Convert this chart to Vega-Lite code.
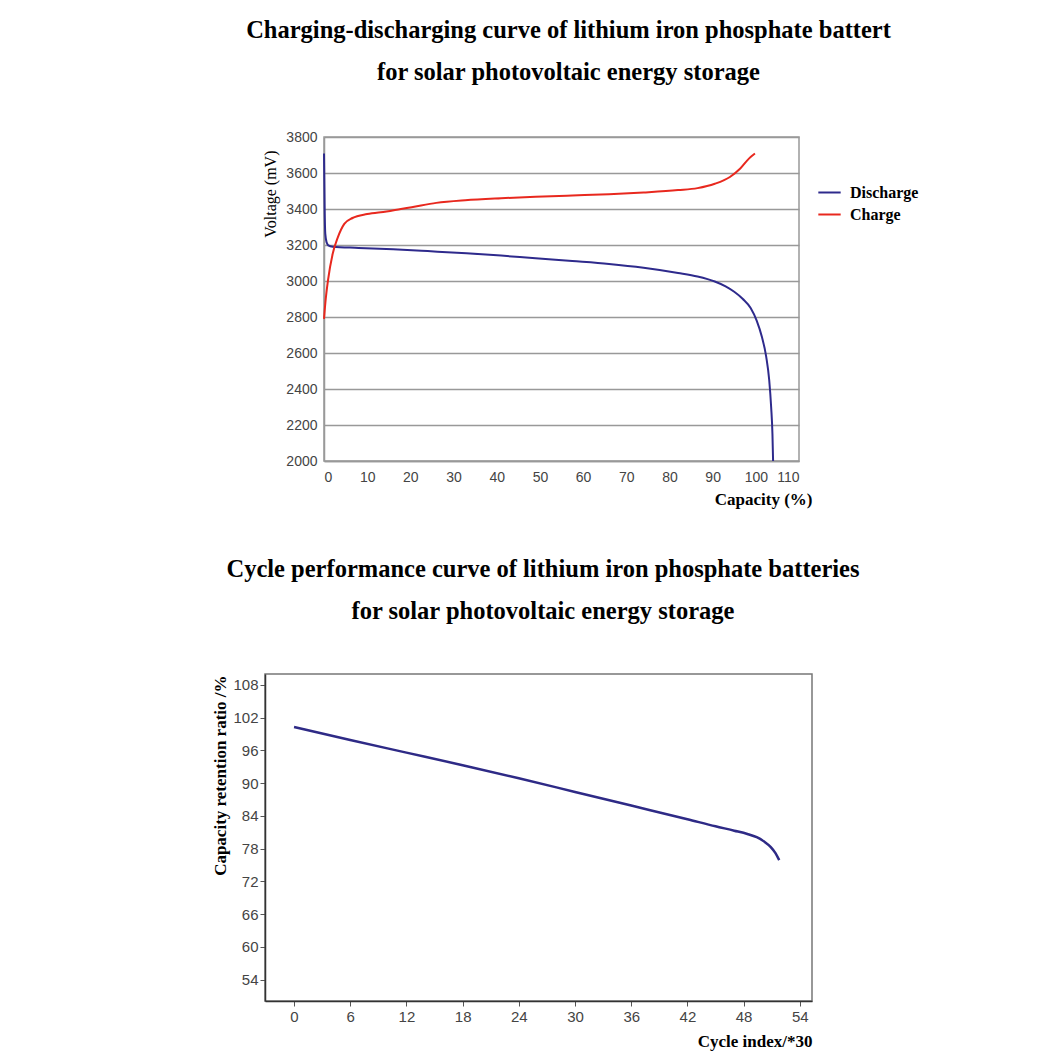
{
  "$schema": "https://vega.github.io/schema/vega-lite/v6.json",
  "padding": {"left": 5, "top": 16, "right": 5, "bottom": 5},
  "autosize": {"type": "pad"},
  "background": "white",
  "spacing": 47,
  "config": {
    "title": {"font": "Liberation Serif", "fontWeight": "bold", "fontSize": 24.5, "color": "#000", "lineHeight": 42},
    "axis": {"labelFont": "Liberation Sans", "labelColor": "#444"}
  },
  "vconcat": [
    {
      "spacing": 0,
      "hconcat": [
        {"width": 240, "height": 10, "data": {"values": []}, "mark": "point", "view": {"stroke": null, "fill": "white"}},
        {
          "width": 475,
          "height": 324,
          "title": {"text": ["Charging-discharging curve of lithium iron phosphate battert", "for solar photovoltaic energy storage"], "frame": "group", "anchor": "middle", "dx": 7, "offset": 45},
          "view": {"stroke": "#999", "strokeWidth": 1.5},
          "data": {"values": [
            {"series": "Discharge", "capacity": 0, "voltage": 3708},
            {"series": "Discharge", "capacity": 0.15, "voltage": 3400},
            {"series": "Discharge", "capacity": 0.3, "voltage": 3262},
            {"series": "Discharge", "capacity": 0.6, "voltage": 3215},
            {"series": "Discharge", "capacity": 1.0, "voltage": 3198},
            {"series": "Discharge", "capacity": 2, "voltage": 3190},
            {"series": "Discharge", "capacity": 8, "voltage": 3184},
            {"series": "Discharge", "capacity": 16, "voltage": 3176},
            {"series": "Discharge", "capacity": 24, "voltage": 3166},
            {"series": "Discharge", "capacity": 33, "voltage": 3154},
            {"series": "Discharge", "capacity": 41, "voltage": 3141},
            {"series": "Discharge", "capacity": 49, "voltage": 3126},
            {"series": "Discharge", "capacity": 57.5, "voltage": 3111},
            {"series": "Discharge", "capacity": 66, "voltage": 3095},
            {"series": "Discharge", "capacity": 74, "voltage": 3074},
            {"series": "Discharge", "capacity": 82, "voltage": 3045},
            {"series": "Discharge", "capacity": 86.5, "voltage": 3025},
            {"series": "Discharge", "capacity": 90.5, "voltage": 2997},
            {"series": "Discharge", "capacity": 93, "voltage": 2970},
            {"series": "Discharge", "capacity": 95, "voltage": 2940},
            {"series": "Discharge", "capacity": 97, "voltage": 2900},
            {"series": "Discharge", "capacity": 98.8, "voltage": 2850},
            {"series": "Discharge", "capacity": 100.2, "voltage": 2780},
            {"series": "Discharge", "capacity": 101.4, "voltage": 2690},
            {"series": "Discharge", "capacity": 102.4, "voltage": 2580},
            {"series": "Discharge", "capacity": 103.1, "voltage": 2450},
            {"series": "Discharge", "capacity": 103.55, "voltage": 2300},
            {"series": "Discharge", "capacity": 103.85, "voltage": 2150},
            {"series": "Discharge", "capacity": 104, "voltage": 2000},
            {"series": "Charge", "capacity": 0, "voltage": 2790},
            {"series": "Charge", "capacity": 0.4, "voltage": 2900},
            {"series": "Charge", "capacity": 0.9, "voltage": 3000},
            {"series": "Charge", "capacity": 2, "voltage": 3150},
            {"series": "Charge", "capacity": 3.2, "voltage": 3242},
            {"series": "Charge", "capacity": 4.7, "voltage": 3317},
            {"series": "Charge", "capacity": 6.6, "voltage": 3350},
            {"series": "Charge", "capacity": 10, "voltage": 3372},
            {"series": "Charge", "capacity": 14.5, "voltage": 3386},
            {"series": "Charge", "capacity": 17.8, "voltage": 3400},
            {"series": "Charge", "capacity": 20.3, "voltage": 3410},
            {"series": "Charge", "capacity": 26, "voltage": 3434},
            {"series": "Charge", "capacity": 32.7, "voltage": 3449},
            {"series": "Charge", "capacity": 41, "voltage": 3460},
            {"series": "Charge", "capacity": 49, "voltage": 3468},
            {"series": "Charge", "capacity": 57.5, "voltage": 3475},
            {"series": "Charge", "capacity": 66, "voltage": 3482},
            {"series": "Charge", "capacity": 74, "voltage": 3492},
            {"series": "Charge", "capacity": 82, "voltage": 3505},
            {"series": "Charge", "capacity": 86.5, "voltage": 3516},
            {"series": "Charge", "capacity": 90.5, "voltage": 3540},
            {"series": "Charge", "capacity": 94, "voltage": 3578},
            {"series": "Charge", "capacity": 96.4, "voltage": 3625},
            {"series": "Charge", "capacity": 98.4, "voltage": 3680},
            {"series": "Charge", "capacity": 99.8, "voltage": 3708}
          ]},
          "mark": {"type": "line", "interpolate": "monotone", "strokeWidth": 2},
          "encoding": {
            "x": {"field": "capacity", "type": "quantitative",
              "scale": {"domain": [0, 110], "nice": false, "zero": false},
              "axis": {"values": [0, 10, 20, 30, 40, 50, 60, 70, 80, 90, 100, 110], "format": "d", "grid": false, "ticks": false, "labelPadding": 9, "labelFontSize": 14, "domainColor": "#999", "domainWidth": 1.5,
                "title": "Capacity (%)", "titleAnchor": "end", "titleX": 488, "titleFont": "Liberation Serif", "titleFontWeight": "bold", "titleFontSize": 17, "titleColor": "#000", "titlePadding": 7}},
            "y": {"field": "voltage", "type": "quantitative",
              "scale": {"domain": [2000, 3800], "nice": false, "zero": false},
              "axis": {"values": [2000, 2200, 2400, 2600, 2800, 3000, 3200, 3400, 3600, 3800], "format": "d", "grid": true, "gridColor": "#999", "gridWidth": 1.5, "ticks": false, "labelPadding": 7, "labelFontSize": 14, "domainColor": "#999", "domainWidth": 1.5,
                "title": "Voltage (mV)", "titleAnchor": "end", "titleY": 13, "titleFont": "Liberation Serif", "titleFontWeight": "normal", "titleFontSize": 16, "titleColor": "#000", "titlePadding": 7}},
            "color": {"field": "series", "type": "nominal",
              "scale": {"domain": ["Discharge", "Charge"], "range": ["#2e2a8c", "#e8281e"]},
              "legend": {"title": null, "orient": "none", "legendX": 812, "legendY": 43, "symbolType": "stroke", "symbolSize": 500, "symbolStrokeWidth": 2, "labelOffset": 8, "labelFont": "Liberation Serif", "labelFontWeight": "bold", "labelFontSize": 16, "labelColor": "#000", "rowPadding": 1}}
          }
        }
      ]
    },
    {
      "spacing": 0,
      "hconcat": [
        {"width": 206, "height": 10, "data": {"values": []}, "mark": "point", "view": {"stroke": null, "fill": "white"}},
        {
          "width": 547,
          "height": 327,
          "title": {"text": ["Cycle performance curve of lithium iron phosphate batteries", "for solar photovoltaic energy storage"], "frame": "group", "anchor": "middle", "dx": 4.5, "offset": 50},
          "view": {"stroke": "#777", "strokeWidth": 1.5},
          "data": {"values": [
            {"cycle": 0, "retention": 100.3},
            {"cycle": 6, "retention": 97.9},
            {"cycle": 12, "retention": 95.6},
            {"cycle": 18, "retention": 93.3},
            {"cycle": 24, "retention": 90.9},
            {"cycle": 30, "retention": 88.4},
            {"cycle": 36, "retention": 85.9},
            {"cycle": 42, "retention": 83.4},
            {"cycle": 45, "retention": 82.1},
            {"cycle": 47, "retention": 81.3},
            {"cycle": 48.4, "retention": 80.7},
            {"cycle": 49.4, "retention": 80.1},
            {"cycle": 50.2, "retention": 79.3},
            {"cycle": 50.9, "retention": 78.3},
            {"cycle": 51.4, "retention": 77.2},
            {"cycle": 51.8, "retention": 75.9}
          ]},
          "mark": {"type": "line", "interpolate": "monotone", "strokeWidth": 2.5, "color": "#2e2a86"},
          "encoding": {
            "x": {"field": "cycle", "type": "quantitative",
              "scale": {"domain": [-3.1, 55.3], "nice": false, "zero": false},
              "axis": {"values": [0, 6, 12, 18, 24, 30, 36, 42, 48, 54], "grid": false, "tickSize": 5, "tickColor": "#555", "labelPadding": 3, "labelFont": "Liberation Sans Narrow, Liberation Sans", "labelFontSize": 15, "domainColor": "#333", "domainWidth": 1.5,
                "title": "Cycle index/*30", "titleAnchor": "end", "titleFont": "Liberation Serif", "titleFontWeight": "bold", "titleFontSize": 17, "titleColor": "#000", "titlePadding": 9}},
            "y": {"field": "retention", "type": "quantitative",
              "scale": {"domain": [50.1, 110], "nice": false, "zero": false},
              "axis": {"values": [54, 60, 66, 72, 78, 84, 90, 96, 102, 108], "grid": false, "tickSize": 5, "tickColor": "#555", "labelPadding": 2, "labelFont": "Liberation Sans Narrow, Liberation Sans", "labelFontSize": 15, "domainColor": "#333", "domainWidth": 1.5,
                "title": "Capacity retention ratio /%", "titleAnchor": "end", "titleY": 1, "titleFont": "Liberation Serif", "titleFontWeight": "bold", "titleFontSize": 17, "titleColor": "#000", "titlePadding": 3}}
          }
        }
      ]
    }
  ]
}
